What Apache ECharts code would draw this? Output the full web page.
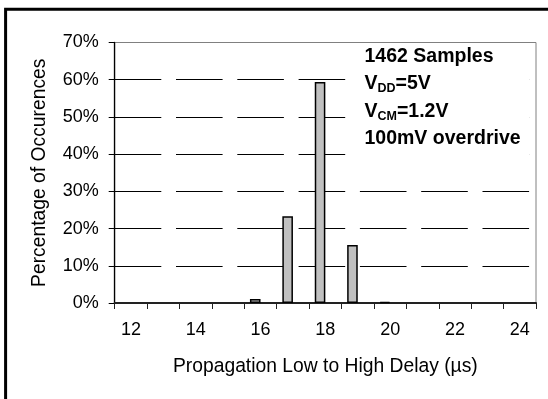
<!DOCTYPE html>
<html>
<head>
<meta charset="utf-8">
<script src="https://cdn.jsdelivr.net/npm/echarts@6/dist/echarts.min.js"></script>
<style>
  html, body { margin: 0; padding: 0; background: #fff; }
  #chart { width: 548px; height: 399px; }
</style>
</head>
<body>
<div id="chart"></div>
<script>
// Propagation delay bins (µs) and share of samples in each bin (%)
const delayBins = ['12', '13', '14', '15', '16', '17', '18', '19', '20', '21', '22', '23', '24'];
const occurrencePct = [0, 0, 0, 0, 1.1, 23.3, 59.4, 15.6, 0.3, 0, 0, 0, 0];
// empty companion series: keeps the bar in the left half of each bin
const companionPct = delayBins.map(() => null);
const yTicks = { min: 0, max: 70, step: 10 };
const noteLines = ['1462 Samples', 'V{s|DD}{b|=5V}', 'V{s|CM}{b|=1.2V}', '100mV overdrive'];

const FONT = '"Liberation Sans", Arial, sans-serif';
const chart = echarts.init(document.getElementById('chart'), null, { renderer: 'canvas' });

const noteTexts = noteLines.map((t, i) => ({
  type: 'text',
  left: 364.5,
  top: [47, 74, 102, 129][i],
  z: 101,
  style: {
    text: i === 1 || i === 2 ? '{b|V}' + t.slice(1) : t,
    font: 'bold 19.5px ' + FONT,
    fill: '#000',
    rich: {
      b: { fontFamily: FONT, fontWeight: 'bold', fontSize: 19.5, color: '#000', lineHeight: 23 },
      s: { fontFamily: FONT, fontWeight: 'bold', fontSize: 12.5, color: '#000', lineHeight: 23, verticalAlign: 'bottom' }
    }
  }
}));

chart.setOption({
  animation: false,
  backgroundColor: '#fff',
  grid: {
    left: 114.7, right: 12, top: 42.5, bottom: 96,
    show: true, borderColor: '#808080', borderWidth: 1, backgroundColor: 'transparent'
  },
  xAxis: {
    type: 'category',
    data: delayBins,
    boundaryGap: true,
    name: 'Propagation Low to High Delay (µs)',
    nameLocation: 'middle',
    nameGap: 54,
    nameTextStyle: { fontFamily: FONT, fontSize: 19.3, color: '#000' },
    axisLine: { show: true, lineStyle: { color: '#222', width: 2 } },
    axisTick: { show: true, interval: 0, length: 6, lineStyle: { color: '#222', width: 1 } },
    axisLabel: { interval: 1, margin: 18, fontFamily: FONT, fontSize: 18, color: '#000' },
    splitLine: { show: false }
  },
  yAxis: {
    type: 'value',
    min: yTicks.min, max: yTicks.max, interval: yTicks.step,
    name: 'Percentage of Occurences',
    nameLocation: 'middle',
    nameGap: 66,
    nameRotate: 90,
    nameTextStyle: { fontFamily: FONT, fontSize: 19.3, color: '#000' },
    axisLine: { show: true, lineStyle: { color: '#000', width: 1.3 } },
    axisTick: { show: true, length: 6, lineStyle: { color: '#000', width: 1 } },
    axisLabel: { margin: 16, fontFamily: FONT, fontSize: 18, color: '#000', formatter: '{value}%' },
    splitLine: {
      show: true, showMinLine: false, showMaxLine: false,
      lineStyle: { color: '#000', width: 1, type: [46.6, 14.7] }
    }
  },
  series: [
    {
      name: 'Occurrences', type: 'bar',
      // empty bins draw no bar
      data: occurrencePct.map(v => (v === 0 ? null : v)),
      barWidth: 10.6, barGap: '0%',
      itemStyle: { color: '#c0c0c0', borderColor: '#000', borderWidth: 1.5 },
      z: 3
    },
    {
      name: 'companion', type: 'bar', data: companionPct,
      barWidth: 10.6, barGap: '0%',
      itemStyle: { color: 'transparent' }
    }
  ],
  graphic: [
    {
      type: 'rect', z: 100,
      shape: { x: 346, y: 46, width: 183, height: 118 },
      style: { fill: '#fff', stroke: null }
    },
    ...noteTexts,
    {
      type: 'rect', z: 110, silent: true,
      shape: { x: 5.6, y: 9.3, width: 640, height: 500 },
      style: { fill: 'none', stroke: '#000', lineWidth: 3 }
    }
  ]
});
</script>
</body>
</html>
